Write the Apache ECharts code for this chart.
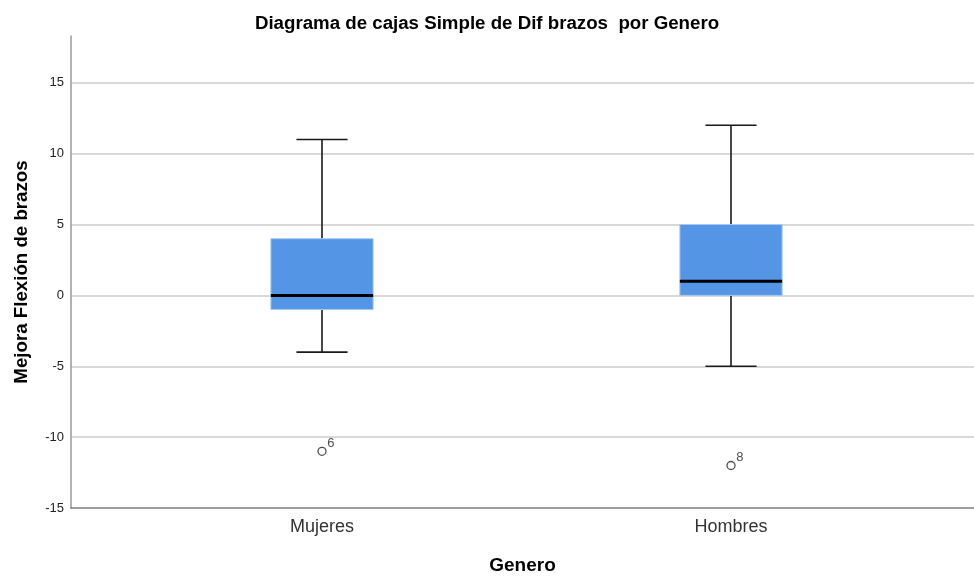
<!DOCTYPE html>
<html>
<head>
<meta charset="utf-8">
<script src="https://cdn.jsdelivr.net/npm/echarts@6/dist/echarts.min.js"></script>
<style>
  html, body { margin: 0; padding: 0; background: #ffffff; }
  #chart { width: 974px; height: 576px; }
</style>
</head>
<body>
<div id="chart"></div>
<script>
// Box summary per group: lower whisker, Q1, median, Q3, upper whisker
const categories = ['Mujeres', 'Hombres'];
const whiskerLow = [-4, -5];
const quartile1 = [-1, 0];
const medians = [0, 1];
const quartile3 = [4, 5];
const whiskerHigh = [11, 12];

// Outlying cases with their case numbers
const outlierGroup = ['Mujeres', 'Hombres'];
const outlierValues = [-11, -12];
const outlierCases = ['6', '8'];

const yMin = -15;
const yMax = 18.3;
const yStep = 5;

const boxData = categories.map((c, i) => [i, whiskerLow[i], quartile1[i], medians[i], quartile3[i], whiskerHigh[i]]);
const outlierData = outlierValues.map((v, i) => ({ value: [outlierGroup[i], v], name: outlierCases[i] }));

const FONT = 'Liberation Sans, Arial, sans-serif';
const INK = '#1a1a1a';

function renderBox(params, api) {
  const idx = api.value(0);
  const band = api.size([1, 0])[0];
  const boxW = band * 0.25;
  const capW = boxW * 0.5;
  const cx = api.coord([idx, 0])[0];
  const yLo = api.coord([idx, api.value(1)])[1];
  const yQ1 = api.coord([idx, api.value(2)])[1];
  const yMed = api.coord([idx, api.value(3)])[1];
  const yQ3 = api.coord([idx, api.value(4)])[1];
  const yHi = api.coord([idx, api.value(5)])[1];
  const whisker = { stroke: INK, lineWidth: 1.6 };
  return {
    type: 'group',
    children: [
      { type: 'line', shape: { x1: cx, y1: yQ3, x2: cx, y2: yHi }, style: whisker },
      { type: 'line', shape: { x1: cx, y1: yQ1, x2: cx, y2: yLo }, style: whisker },
      { type: 'line', shape: { x1: cx - capW / 2, y1: yHi, x2: cx + capW / 2, y2: yHi }, style: whisker },
      { type: 'line', shape: { x1: cx - capW / 2, y1: yLo, x2: cx + capW / 2, y2: yLo }, style: whisker },
      { type: 'rect', shape: { x: cx - boxW / 2, y: yQ3, width: boxW, height: yQ1 - yQ3 },
        style: { fill: '#5495e5', stroke: '#a9c9f1', lineWidth: 1 } },
      { type: 'line', shape: { x1: cx - boxW / 2, y1: yMed, x2: cx + boxW / 2, y2: yMed },
        style: { stroke: '#000000', lineWidth: 3 } }
    ]
  };
}

const chart = echarts.init(document.getElementById('chart'), null, { renderer: 'canvas' });
chart.setOption({
  backgroundColor: '#ffffff',
  animation: false,
  title: {
    text: 'Diagrama de cajas Simple de Dif brazos  por Genero',
    left: 'center',
    top: 9,
    textStyle: { fontFamily: FONT, fontSize: 18.7, fontWeight: 'bold', color: '#000' }
  },
  grid: [
    { left: 71, right: 0, top: 36, bottom: 68, outerBoundsMode: 'none' },
    { left: 117.5, right: 38.5, top: 36, bottom: 68, outerBoundsMode: 'none' }
  ],
  xAxis: [
    {
      gridIndex: 0, type: 'value', min: 0, max: 1,
      axisLine: { show: true, onZero: false, lineStyle: { color: '#7f7f7f', width: 1.5 } },
      axisTick: { show: false }, axisLabel: { show: false }, splitLine: { show: false },
      name: 'Genero', nameLocation: 'middle', nameGap: 48,
      nameTextStyle: { fontFamily: FONT, fontSize: 19, fontWeight: 'bold', color: '#000' }
    },
    {
      gridIndex: 1, type: 'category', data: categories,
      axisLine: { show: false }, axisTick: { show: false }, splitLine: { show: false },
      axisLabel: { fontFamily: FONT, fontSize: 18, color: '#333', margin: 10 }
    }
  ],
  yAxis: [
    {
      gridIndex: 0, type: 'value', min: yMin, max: yMax, interval: yStep,
      axisLine: { show: true, onZero: false, lineStyle: { color: '#999999', width: 1.5 } },
      axisTick: { show: false },
      axisLabel: { fontFamily: FONT, fontSize: 13, color: '#222', margin: 7, showMaxLabel: false },
      splitLine: { show: true, showMaxLine: false, showMinLine: false, lineStyle: { color: '#cccccc', width: 1.5 } },
      name: 'Mejora Flexión de brazos', nameLocation: 'middle', nameGap: 40, nameRotate: 90,
      nameTextStyle: { fontFamily: FONT, fontSize: 18.7, fontWeight: 'bold', color: '#000' }
    },
    {
      gridIndex: 1, type: 'value', min: yMin, max: yMax, interval: yStep,
      axisLine: { show: false }, axisTick: { show: false }, axisLabel: { show: false },
      splitLine: { show: false }
    }
  ],
  series: [
    {
      type: 'custom', xAxisIndex: 1, yAxisIndex: 1,
      renderItem: renderBox,
      encode: { x: 0, y: [1, 2, 3, 4, 5] },
      data: boxData, z: 3
    },
    {
      type: 'scatter', xAxisIndex: 1, yAxisIndex: 1,
      symbol: 'circle', symbolSize: 8,
      itemStyle: { color: '#ffffff', borderColor: '#222', borderWidth: 1.3 },
      label: {
        show: true, formatter: '{b}', position: [10, -10],
        fontFamily: FONT, fontSize: 13, color: '#222'
      },
      data: outlierData, z: 4
    }
  ]
});
</script>
</body>
</html>
